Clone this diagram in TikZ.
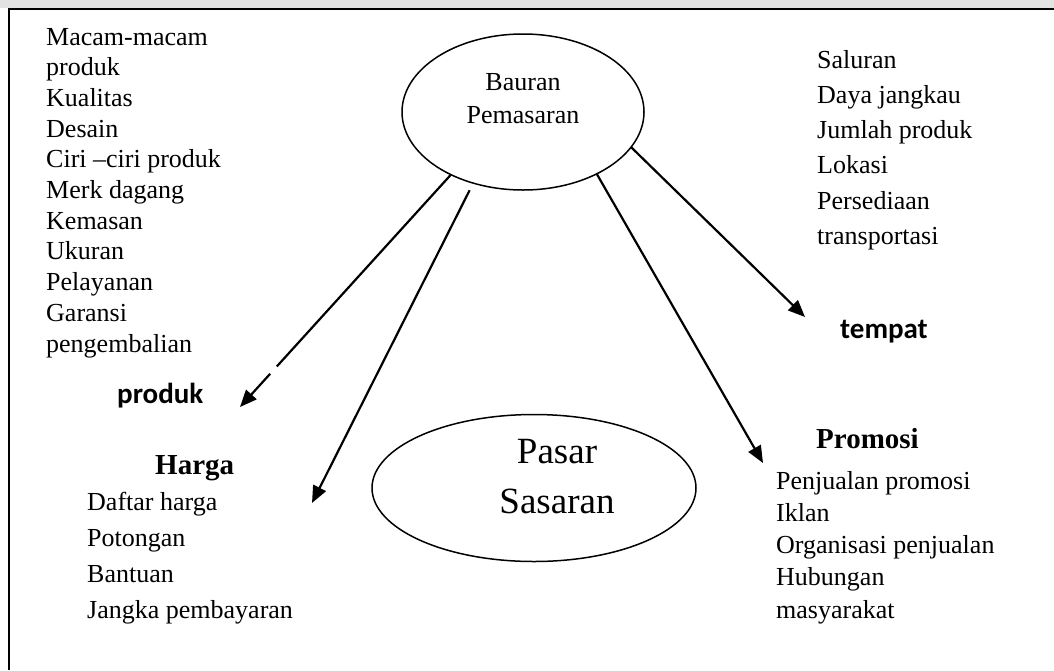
\documentclass[tikz,border=0pt]{standalone}
\usepackage{fontspec}
\setmainfont{Liberation Serif}
\newfontfamily\calibri{Carlito}
\usetikzlibrary{shapes.geometric,arrows.meta}
\begin{document}
\begin{tikzpicture}[x=1pt,y=-1pt,
  listtext/.style={anchor=base west, inner sep=0pt, font=\fontsize{26}{31}\selectfont},
  headtext/.style={anchor=base west, inner sep=0pt, font=\fontsize{29}{34}\selectfont\bfseries},
  sanshead/.style={anchor=base west, inner sep=0pt, font=\calibri\fontsize{29}{34}\selectfont\bfseries},
  oval/.style={ellipse, draw, line width=1.5pt, inner sep=0pt, outer sep=0pt},
  link/.style={line width=2.2pt, -{Triangle[length=17pt,width=14pt]}},
]
\useasboundingbox (0,0) rectangle (1054,670);
\fill[white] (0,0) rectangle (1054,670);
\fill[gray!22] (0,0) rectangle (1054,8);
% frame
\draw[line width=2pt] (9,670) -- (9,9) -- (1054,9);

% central ovals
\node[oval, minimum width=242pt, minimum height=156pt] (bauran) at (523,112) {};
\node[anchor=base, inner sep=0pt, font=\fontsize{26}{31}\selectfont] (bauranA) at (523,90) {Bauran};
\node[anchor=base, inner sep=0pt, font=\fontsize{26}{31}\selectfont] (bauranB) at (523,123) {Pemasaran};

\node[oval, minimum width=324pt, minimum height=147pt] (pasar) at (534,488) {};
\node[anchor=base, inner sep=0pt, font=\fontsize{37}{44}\selectfont] (pasarA) at (557,463) {Pasar};
\node[anchor=base, inner sep=0pt, font=\fontsize{37}{44}\selectfont] (pasarB) at (557,513) {Sasaran};

% product attributes
\foreach \t [count=\i from 0] in {Macam-macam, produk, Kualitas, Desain, Ciri –ciri produk,
  Merk dagang, Kemasan, Ukuran, Pelayanan, Garansi, pengembalian}
  \node[listtext] (prod\i) at (46, 45+30.7*\i) {\t};
\node[sanshead] (produk) at (117,403) {produk};

% place attributes
\foreach \t [count=\i from 0] in {Saluran, Daya jangkau, Jumlah produk, Lokasi, Persediaan, transportasi}
  \node[listtext] (plc\i) at (817, 68+35.3*\i) {\t};
\node[sanshead] (tempat) at (840,338) {tempat};

% price attributes
\node[headtext] (harga) at (155,474) {Harga};
\foreach \t [count=\i from 0] in {Daftar harga, Potongan, Bantuan, Jangka pembayaran}
  \node[listtext] (prc\i) at (87, 510+36.3*\i) {\t};

% promotion attributes
\node[headtext] (promosi) at (816,448) {Promosi};
\foreach \t [count=\i from 0] in {Penjualan promosi, Iklan, Organisasi penjualan, Hubungan, masyarakat}
  \node[listtext] (prm\i) at (776, 489+32.3*\i) {\t};

% arrow targets
\coordinate (tipProduk) at (240,407);
\coordinate (tipHarga) at (312,503);
\coordinate (tipPromosi) at (763,463);
\coordinate (tipTempat) at (805,317);

\draw[link, dash pattern=on 259pt off 10pt on 200pt] (bauran.221.7) -- (tipProduk);
\draw[link, shorten <=8pt] (bauran.235.3) -- (tipHarga);
\draw[link] (bauran.320.6) -- (tipPromosi);
\draw[link] (bauran.342.5) -- (tipTempat);
\end{tikzpicture}
\end{document}
